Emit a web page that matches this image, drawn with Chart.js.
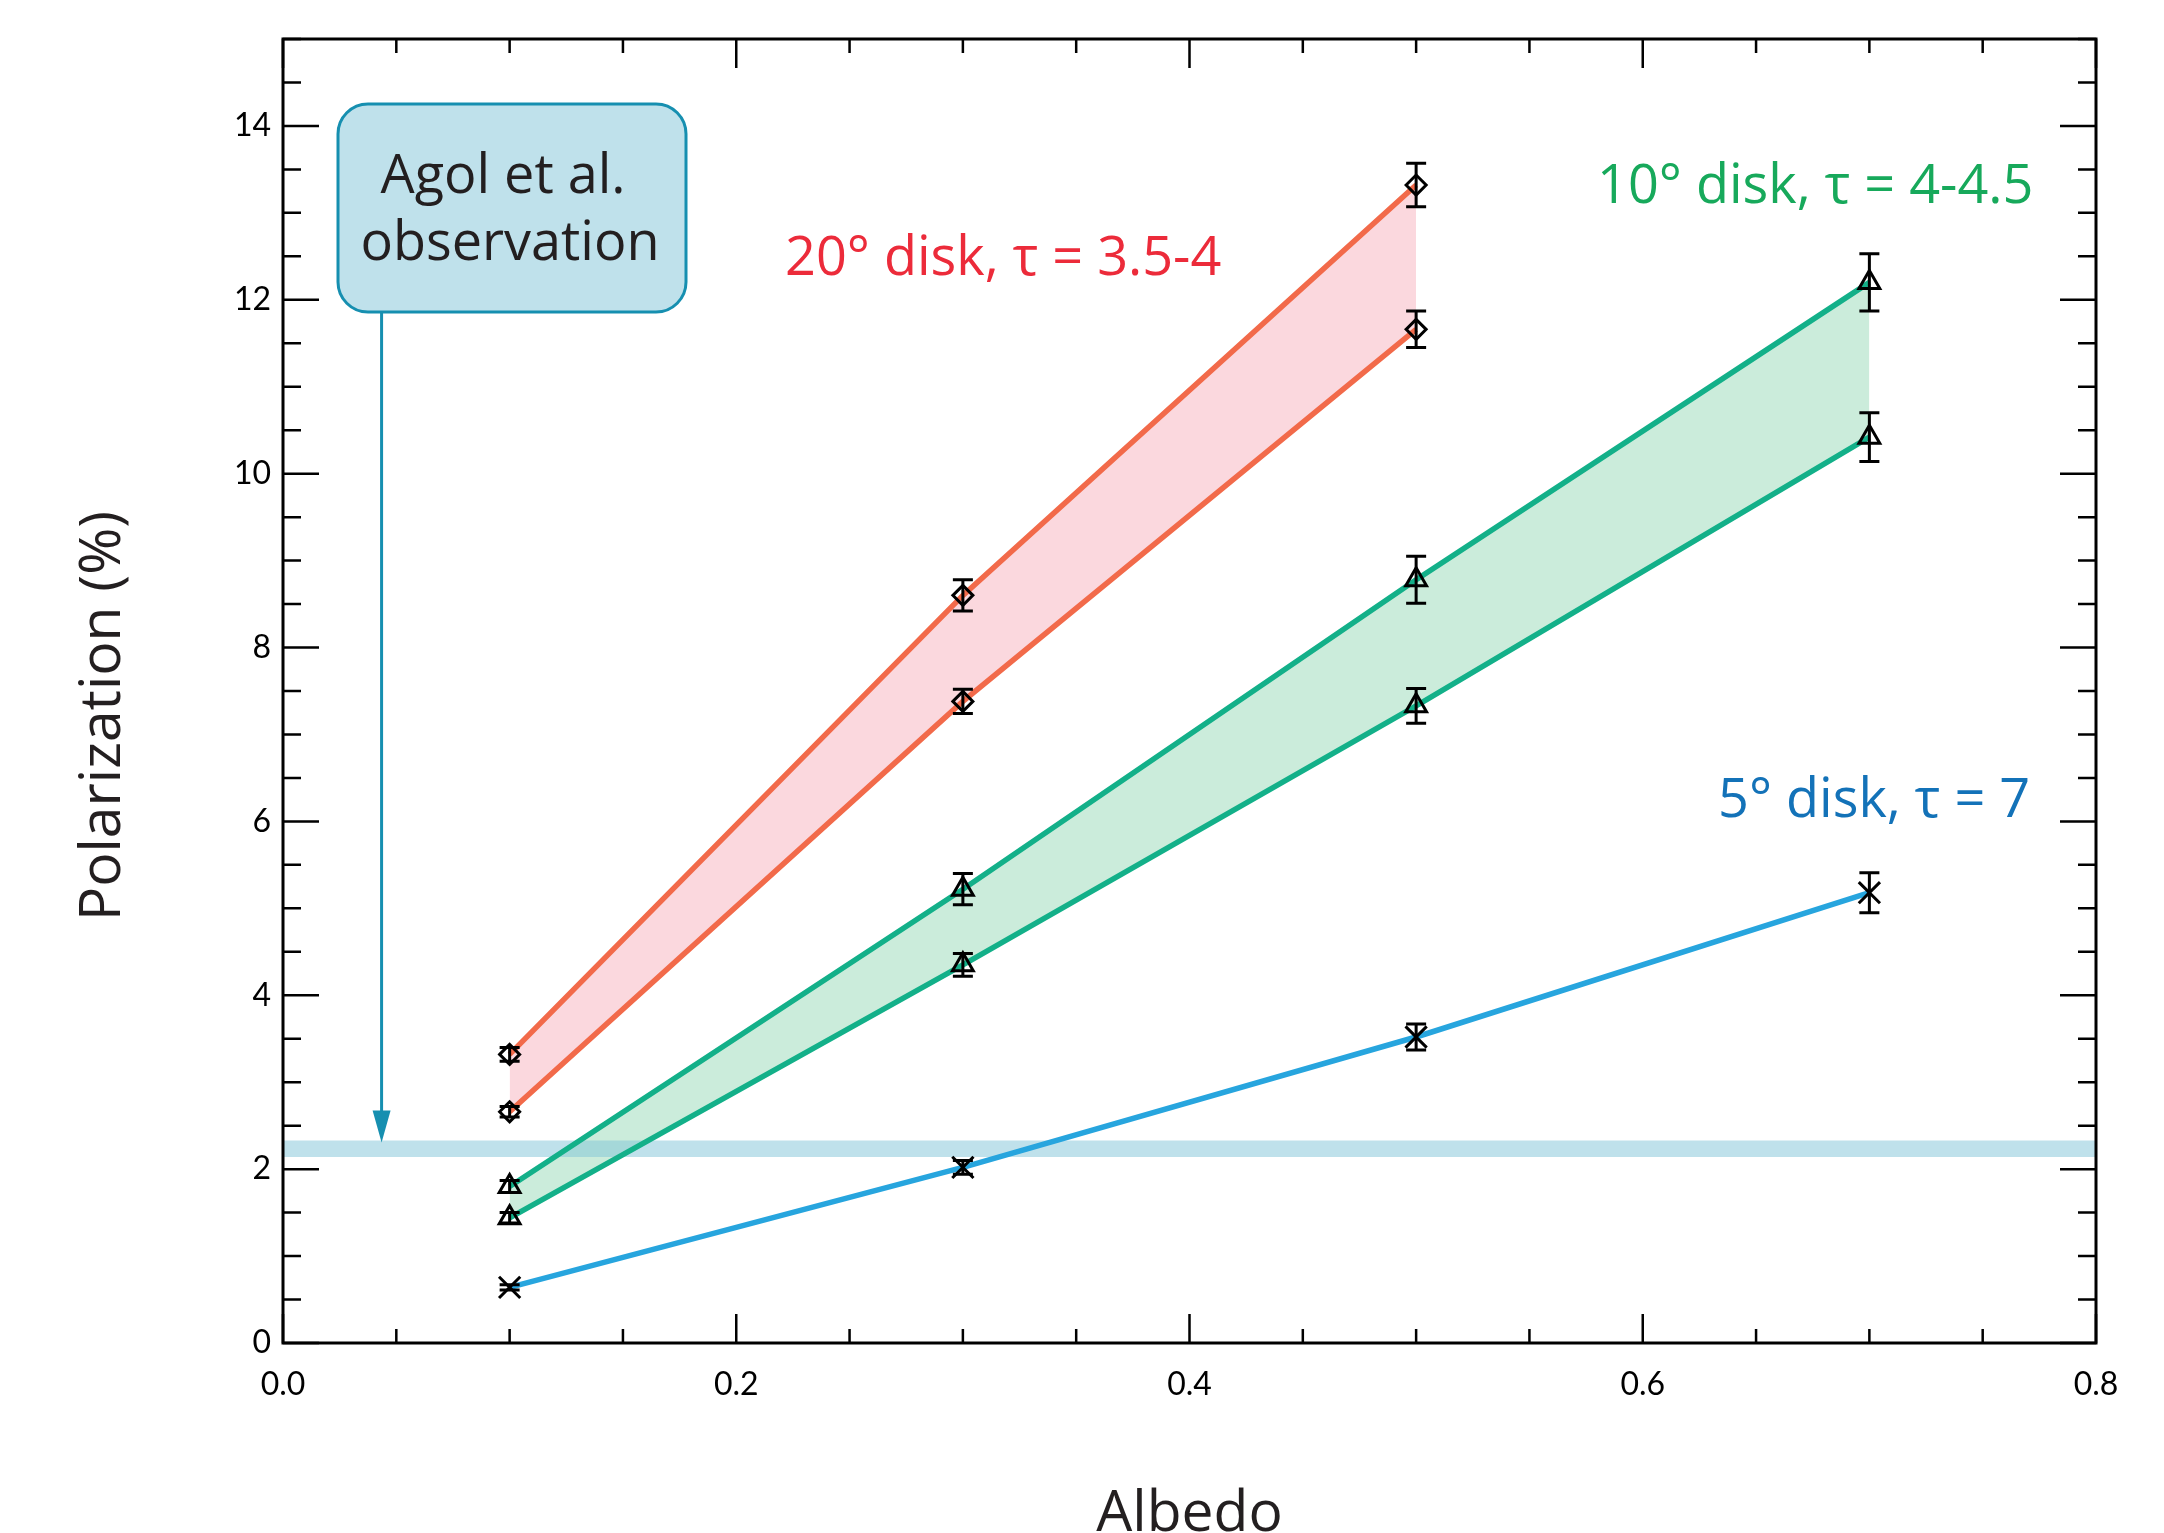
<!DOCTYPE html>
<html>
<head>
<meta charset="utf-8">
<script src="https://cdn.jsdelivr.net/npm/chart.js@4/dist/chart.umd.min.js"></script>
<style>
  html, body { margin: 0; padding: 0; background: #fff; }
  #wrap { width: 2164px; height: 1533px; }
</style>
</head>
<body>
<div id="wrap"><canvas id="chart" width="2164" height="1533"></canvas></div>
<script>
// Albedo values of the models
const albedo = [0.1, 0.3, 0.5, 0.7];

// 20 deg disk, tau = 3.5-4 (upper / lower curve)
const red20Upper = [3.32, 8.60, 13.32];
const red20Lower = [2.66, 7.38, 11.66];
const red20UpperErr = [0.08, 0.18, 0.25];
const red20LowerErr = [0.06, 0.14, 0.21];

// 10 deg disk, tau = 4-4.5
const green10Upper = [1.80, 5.22, 8.78, 12.20];
const green10Lower = [1.44, 4.35, 7.33, 10.42];
const green10UpperErr = [0.07, 0.18, 0.27, 0.33];
const green10LowerErr = [0.06, 0.13, 0.20, 0.28];

// 5 deg disk, tau = 7
const blue5 = [0.64, 2.02, 3.52, 5.18];
const blue5Err = [0.03, 0.08, 0.15, 0.23];

// Agol et al. observed polarization band
const obsX = [0.0, 0.8];
const obsLow = [2.14, 2.14];
const obsHigh = [2.33, 2.33];

// axes
const xMajorTicks = [0.0, 0.2, 0.4, 0.6, 0.8];
const xTickLabels = ['0.0', '0.2', '0.4', '0.6', '0.8'];
const xMinorStep = 0.05;
const yMajorTicks = [0, 2, 4, 6, 8, 10, 12, 14];
const yTickLabels = ['0', '2', '4', '6', '8', '10', '12', '14'];
const yMinorStep = 0.5;

const toPts = (xs, ys) => ys.map((v, i) => ({ x: xs[i], y: v }));

// Frame with inward ticks on all four sides
const framePlugin = {
    id: 'frame',
    afterDraw(chart) {
        const { ctx, chartArea: a, scales: { x, y } } = chart;
        ctx.save();
        ctx.strokeStyle = '#000';
        ctx.lineWidth = 3;
        ctx.strokeRect(a.left, a.top, a.right - a.left, a.bottom - a.top);
        ctx.lineWidth = 2.5;
        ctx.beginPath();
        for (let v = 0; v <= 0.8 + 1e-9; v += xMinorStep) {
            const major = xMajorTicks.some(t => Math.abs(t - v) < 1e-6);
            const len = major ? 29 : 14;
            const px = x.getPixelForValue(v);
            ctx.moveTo(px, a.bottom); ctx.lineTo(px, a.bottom - len);
            ctx.moveTo(px, a.top); ctx.lineTo(px, a.top + len);
        }
        for (let v = 0; v <= 15 + 1e-9; v += yMinorStep) {
            const major = yMajorTicks.includes(v);
            const len = major ? 36 : 18;
            const py = y.getPixelForValue(v);
            ctx.moveTo(a.left, py); ctx.lineTo(a.left + len, py);
            ctx.moveTo(a.right, py); ctx.lineTo(a.right - len, py);
        }
        ctx.stroke();
        ctx.restore();
    }
};

// Vertical error bars with caps
const errorBarPlugin = {
    id: 'errorBars',
    afterDatasetsDraw(chart) {
        const { ctx, scales: { x, y } } = chart;
        ctx.save();
        ctx.strokeStyle = '#000';
        ctx.lineWidth = 3;
        chart.data.datasets.forEach(ds => {
            if (!ds.errors) return;
            ds.data.forEach((p, i) => {
                const px = x.getPixelForValue(p.x);
                const top = y.getPixelForValue(p.y + ds.errors[i]);
                const bot = y.getPixelForValue(p.y - ds.errors[i]);
                ctx.beginPath();
                ctx.moveTo(px, top); ctx.lineTo(px, bot);
                ctx.moveTo(px - 10, top); ctx.lineTo(px + 10, top);
                ctx.moveTo(px - 10, bot); ctx.lineTo(px + 10, bot);
                ctx.stroke();
            });
        });
        ctx.restore();
    }
};

// Titles, series labels and the observation call-out
const labelPlugin = {
    id: 'labels',
    afterDraw(chart) {
        const { ctx, chartArea: a, scales: { x, y } } = chart;
        ctx.save();

        // axis titles
        ctx.fillStyle = '#231f20';
        ctx.font = '57px "Open Sans"';
        ctx.textAlign = 'center';
        ctx.textBaseline = 'alphabetic';
        ctx.fillText('Albedo', (a.left + a.right) / 2, 1531);
        ctx.save();
        ctx.translate(120, 716);
        ctx.rotate(-Math.PI / 2);
        ctx.fillText('Polarization (%)', 0, 0);
        ctx.restore();

        // series labels
        ctx.textAlign = 'left';
        ctx.font = '54px "Open Sans"';
        ctx.fillStyle = '#ec2b3a';
        ctx.fillText('20° disk, τ = 3.5-4', 785, 275);
        ctx.fillStyle = '#17a95b';
        ctx.fillText('10° disk, τ = 4-4.5', 1597, 203);
        ctx.fillStyle = '#1372b8';
        ctx.fillText('5° disk, τ = 7', 1718, 817);

        // arrow from the box down to the observed band
        const ax = x.getPixelForValue(0.0435);
        const tip = y.getPixelForValue(obsHigh[0]) + 2;
        ctx.strokeStyle = '#168fb0';
        ctx.fillStyle = '#168fb0';
        ctx.lineWidth = 3;
        ctx.beginPath();
        ctx.moveTo(ax, 312); ctx.lineTo(ax, tip - 28);
        ctx.stroke();
        ctx.beginPath();
        ctx.moveTo(ax - 9, tip - 32); ctx.lineTo(ax + 9, tip - 32); ctx.lineTo(ax, tip);
        ctx.closePath();
        ctx.fill();

        // call-out box
        const bx = 338, by = 104, bw = 348, bh = 208, r = 30;
        ctx.beginPath();
        ctx.moveTo(bx + r, by);
        ctx.arcTo(bx + bw, by, bx + bw, by + bh, r);
        ctx.arcTo(bx + bw, by + bh, bx, by + bh, r);
        ctx.arcTo(bx, by + bh, bx, by, r);
        ctx.arcTo(bx, by, bx + bw, by, r);
        ctx.closePath();
        ctx.fillStyle = '#bfe1eb';
        ctx.fill();
        ctx.lineWidth = 3;
        ctx.strokeStyle = '#168fb0';
        ctx.stroke();

        ctx.fillStyle = '#231f20';
        ctx.font = '54px "Open Sans"';
        ctx.textAlign = 'center';
        ctx.fillText('Agol et al.', 503, 193);
        ctx.fillText('observation', 510, 260);
        ctx.restore();
    }
};

const lineCommon = {
    borderWidth: 5.5,
    pointBorderColor: '#000',
    pointBackgroundColor: 'rgba(0,0,0,0)',
    pointBorderWidth: 3,
    tension: 0
};

new Chart(document.getElementById('chart'), {
    type: 'line',
    data: {
        datasets: [
            { data: toPts(obsX, obsHigh), borderWidth: 0, pointRadius: 0, fill: false },
            { data: toPts(obsX, obsLow), borderWidth: 0, pointRadius: 0,
              fill: '-1', backgroundColor: 'rgba(127,195,215,0.5)' },
            { ...lineCommon, data: toPts(albedo, red20Upper), errors: red20UpperErr,
              borderColor: '#f26a4a', pointStyle: 'rectRot', pointRadius: 10, fill: false },
            { ...lineCommon, data: toPts(albedo, red20Lower), errors: red20LowerErr,
              borderColor: '#f26a4a', pointStyle: 'rectRot', pointRadius: 10,
              fill: '-1', backgroundColor: '#fbd8de' },
            { ...lineCommon, data: toPts(albedo, green10Upper), errors: green10UpperErr,
              borderColor: '#13b089', pointStyle: 'triangle', pointRadius: 12, fill: false },
            { ...lineCommon, data: toPts(albedo, green10Lower), errors: green10LowerErr,
              borderColor: '#13b089', pointStyle: 'triangle', pointRadius: 12,
              fill: '-1', backgroundColor: '#cbecdb' },
            { ...lineCommon, data: toPts(albedo, blue5), errors: blue5Err,
              borderColor: '#27a5de', pointStyle: 'crossRot', pointRadius: 15, fill: false }
        ]
    },
    options: {
        responsive: false,
        animation: false,
        layout: { padding: { top: 39, right: 68, left: 0, bottom: 0 } },
        plugins: {
            legend: { display: false },
            tooltip: { enabled: false },
            filler: { drawTime: 'beforeDatasetsDraw' }
        },
        scales: {
            x: {
                type: 'linear',
                min: 0,
                max: 0.8,
                grid: { display: false, drawTicks: false },
                border: { display: false },
                afterBuildTicks: s => { s.ticks = xMajorTicks.map(v => ({ value: v })); },
                afterFit: s => { s.height = 190; },
                ticks: {
                    padding: 22,
                    color: '#000',
                    font: { family: 'Lato', size: 32 },
                    maxRotation: 0,
                    callback: (v) => xTickLabels[xMajorTicks.findIndex(t => Math.abs(t - v) < 1e-6)]
                }
            },
            y: {
                min: 0,
                max: 15,
                grid: { display: false, drawTicks: false },
                border: { display: false },
                afterBuildTicks: s => { s.ticks = yMajorTicks.map(v => ({ value: v })); },
                afterFit: s => { s.width = 283; },
                ticks: {
                    padding: 12,
                    color: '#000',
                    font: { family: 'Lato', size: 32 },
                    callback: (v) => yTickLabels[yMajorTicks.indexOf(v)]
                }
            }
        }
    },
    plugins: [framePlugin, errorBarPlugin, labelPlugin]
});
</script>
</body>
</html>
